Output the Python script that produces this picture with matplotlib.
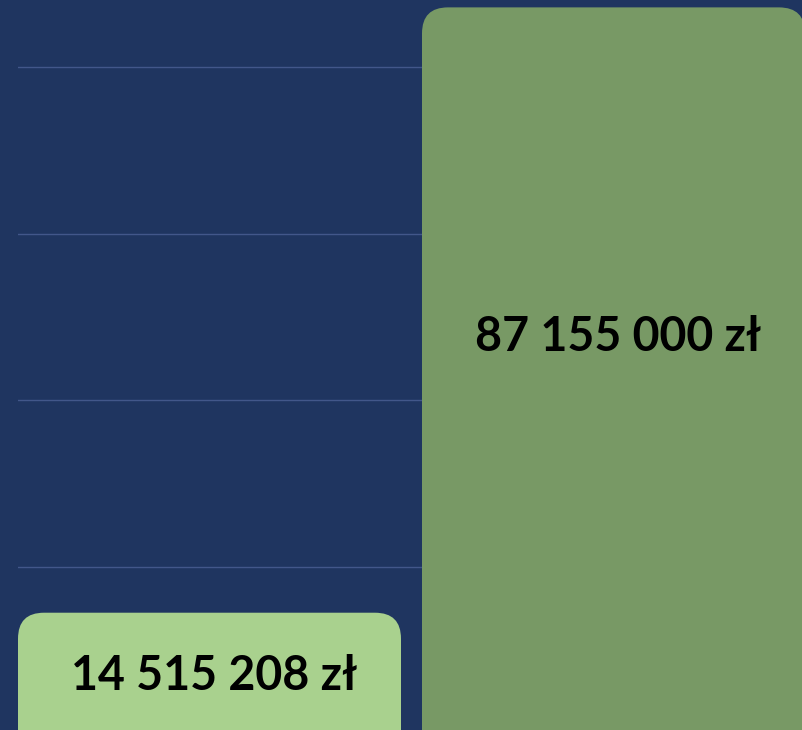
import matplotlib
matplotlib.use("Agg")
import matplotlib.pyplot as plt
from matplotlib.patches import FancyBboxPatch

# dane
categories = ["A", "B"]
values = [14515208, 87155000]
bar_colors = ["#a9d18e", "#789965"]
label_y = [None, 47600000]  # None -> środek słupka

bg = "#1f3560"

fig = plt.figure(figsize=(8.02, 7.30), dpi=100)
fig.patch.set_facecolor(bg)
ax = fig.add_axes([18 / 802, 0, 1 - 18 / 802, 1])
ax.set_facecolor(bg)

width = 383 / 404
bars = ax.bar(range(len(values)), values, width=width, color=bar_colors)

ax.set_xlim(-width / 2, (802 - 209.5) / 404)
ax.set_ylim(0.44e6, 88.04e6)
ax.set_yticks([20e6, 40e6, 60e6, 80e6])
ax.grid(axis="y", color="#42578a", linewidth=1)
ax.set_axisbelow(True)
ax.set_xticks([])
ax.tick_params(left=False, labelleft=False)
for s in ax.spines.values():
    s.set_visible(False)

# zaokrąglone górne rogi
r_x = 26 / 404
r_y = 26 * 0.12e6
for b in bars:
    b.set_visible(False)
    x0 = b.get_x()
    h = b.get_height()
    p = FancyBboxPatch((x0, -20e6), b.get_width(), h + 20e6,
                       boxstyle=f"round,pad=0,rounding_size={r_x}",
                       mutation_aspect=r_y / r_x,
                       facecolor=b.get_facecolor(), edgecolor="none", zorder=2)
    ax.add_patch(p)

for i, v in enumerate(values):
    txt = f"{v:,}".replace(",", " ") + " zł"
    y = label_y[i] if label_y[i] is not None else v / 2 - 0.36e6
    ax.text(i + 0.012, y, txt, ha="center", va="center", fontsize=33.5,
            fontweight="bold", family=["Lato", "DejaVu Sans"], color="black", zorder=3)

fig.savefig("out.png", dpi=100, facecolor=bg)
